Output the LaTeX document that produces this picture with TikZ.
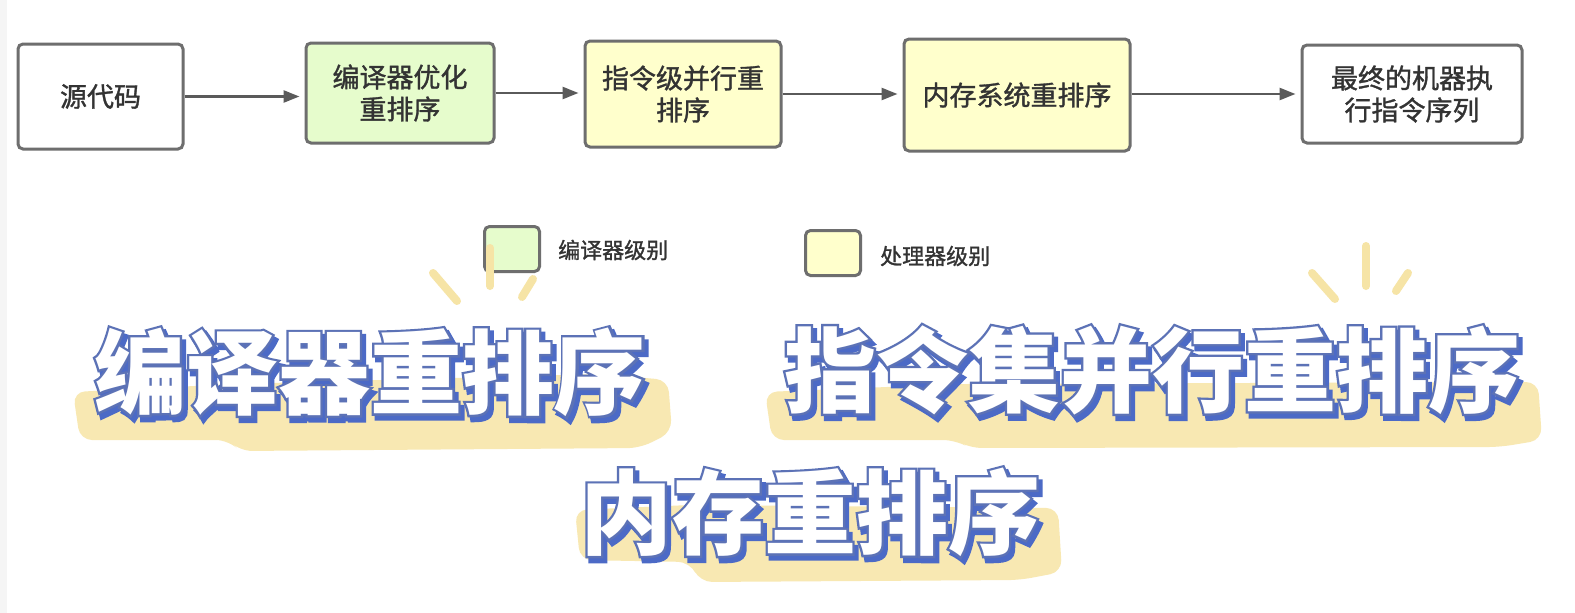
\documentclass[tikz,border=0pt]{standalone}
\usepackage{fontspec}
\setmainfont{Noto Sans CJK SC}
\newfontfamily\boxfont{Noto Sans CJK SC}[FakeBold=1.2]
\newfontfamily\bigedgefont{Noto Sans CJK SC}[FakeBold=5]
\newfontfamily\bigshadowfont{Noto Sans CJK SC}[FakeBold=6]
\usetikzlibrary{arrows.meta,calc}
\definecolor{boxline}{HTML}{6E6E6E}
\definecolor{arrowline}{HTML}{5A5A5A}
\definecolor{boxtext}{HTML}{333333}
\definecolor{greenfill}{HTML}{E6FCCC}
\definecolor{yellowfill}{HTML}{FFFFCC}
\definecolor{brush}{HTML}{F8E8B2}
\definecolor{spark}{HTML}{F6E4A6}
\definecolor{shadowblue}{HTML}{4C6AC6}
\definecolor{edgeblue}{HTML}{5C72B6}
\tikzset{
  flowbox/.style={draw=boxline, line width=3pt, rounded corners=5pt, align=center,
    text=boxtext, font=\boxfont\fontsize{27}{32}\selectfont, inner sep=0pt},
  legendbox/.style={draw=boxline, line width=3pt, rounded corners=5pt,
    minimum width=55pt, minimum height=45pt, inner sep=0pt},
  legendtxt/.style={text=boxtext, font=\boxfont\fontsize{22}{26}\selectfont, inner sep=0pt, anchor=west},
  flowarrow/.style={draw=arrowline, line width=2.5pt,
    -{Triangle[length=16pt,width=12pt]}, shorten >=5pt},
  bigtxt/.style={inner sep=0pt},
  brushfill/.style={fill=brush, rounded corners=12pt},
  sparkline/.style={draw=spark, line width=8pt, line cap=round}
}
\newcommand\fancytext[4]{%
  \node[bigtxt,text=shadowblue,font=\bigshadowfont\fontsize{92}{100}\selectfont\bfseries]
    (#1s) at ($(#2,#3)+(3.5,4.5)$) {#4};
  \node[bigtxt,text=edgeblue,font=\bigedgefont\fontsize{92}{100}\selectfont\bfseries]
    (#1e) at (#2,#3) {#4};
  \node[bigtxt,text=white,font=\fontsize{92}{100}\selectfont\bfseries] (#1) at (#2,#3) {#4};
}
\begin{document}
\begin{tikzpicture}[x=1pt,y=-1pt]
\useasboundingbox (0,0) rectangle (1575,613);
\fill[white] (0,0) rectangle (1575,613);
\fill[black!4] (0,0) rectangle (7,613);

% flow boxes
\node[flowbox, minimum width=165pt, minimum height=105pt] (src) at (100.5,96.5) {源代码};
\node[flowbox, fill=greenfill, minimum width=188pt, minimum height=100pt] (cmp) at (400,93) {编译器优化\\重排序};
\node[flowbox, fill=yellowfill, minimum width=196pt, minimum height=106pt] (ilp) at (683,94) {指令级并行重\\排序};
\node[flowbox, fill=yellowfill, minimum width=226pt, minimum height=112pt] (mem) at (1017,95) {内存系统重排序};
\node[flowbox, minimum width=220pt, minimum height=98pt] (fin) at (1412,94) {最终的机器执\\行指令序列};

\draw[flowarrow] (src.east) -- (cmp.west |- src.east);
\draw[flowarrow] (cmp.east) -- (ilp.west |- cmp.east);
\draw[flowarrow] (ilp.east) -- (mem.west |- ilp.east);
\draw[flowarrow] (mem.east |- fin.west) -- (fin.west);

% legend
\node[legendbox, fill=greenfill] (lg1) at (512,249) {};
\node[legendtxt] (lt1) at (558,250) {编译器级别};
\node[legendbox, fill=yellowfill] (lg2) at (833,253) {};
\node[legendtxt] (lt2) at (880,256) {处理器级别};

% brush highlights
\fill[brushfill] (73,392) -- (235,384) -- (600,374) -- (668,380) -- (672,432)
  -- (640,448) -- (240,451) -- (228,440) -- (80,440) -- cycle;
\fill[brushfill] (765,392) -- (960,384) -- (1538,382) -- (1542,440)
  -- (1500,447) -- (970,448) -- (955,440) -- (772,440) -- cycle;
\fill[brushfill] (575,510) -- (690,505) -- (1058,508) -- (1062,572)
  -- (1020,580) -- (700,582) -- (690,562) -- (580,560) -- cycle;

% sparkles
\draw[sparkline] (433,273) -- (457,301);
\draw[sparkline] (490,248) -- (490,286);
\draw[sparkline] (533,279) -- (522,297);
\draw[sparkline] (1312,273) -- (1335,299);
\draw[sparkline] (1366,246) -- (1366,286);
\draw[sparkline] (1408,273) -- (1396,291);

% big titles
\fancytext{t1}{370}{372}{编译器重排序}
\fancytext{t2}{1152}{370}{指令集并行重排序}
\fancytext{t3}{810}{512}{内存重排序}
\end{tikzpicture}
\end{document}
